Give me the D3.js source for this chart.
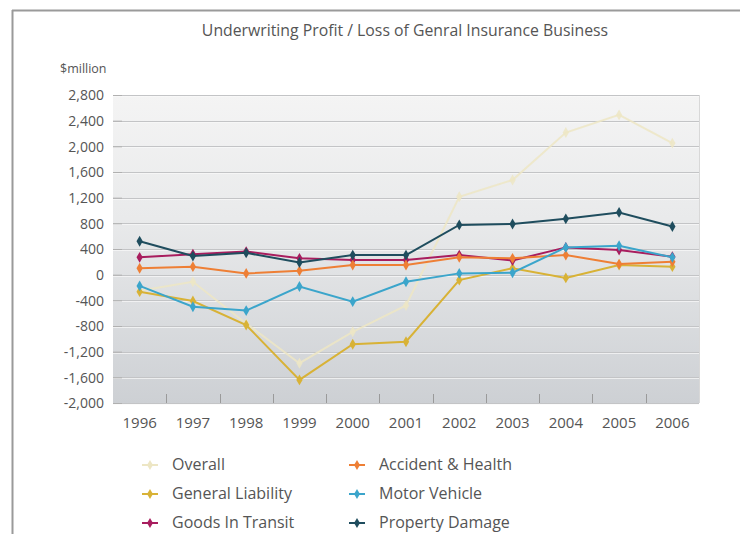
<!DOCTYPE html>
<html><head><meta charset="utf-8">
<script src="https://cdn.jsdelivr.net/npm/d3@7"></script>
<style>
html,body{margin:0;padding:0;background:#fff;}
svg{display:block;font-family:"Open Sans","Noto Sans",sans-serif;}
</style></head>
<body>
<svg id="chart" width="740" height="534"></svg>
<script>
const years = ["1996","1997","1998","1999","2000","2001","2002","2003","2004","2005","2006"];
const yTicks = [-2000,-1600,-1200,-800,-400,0,400,800,1200,1600,2000,2400,2800];
const seriesNames = ["Overall","General Liability","Goods In Transit","Accident & Health","Motor Vehicle","Property Damage"];
const overall = [-250,-110,-760,-1380,-890,-480,1215,1475,2215,2490,2050];
const generalLiability = [-265,-410,-785,-1640,-1085,-1045,-85,100,-50,150,125];
const goodsInTransit = [270,320,360,255,230,230,305,220,425,385,280];
const accidentHealth = [100,125,20,60,150,150,270,255,305,165,200];
const motorVehicle = [-175,-500,-560,-185,-420,-110,20,30,425,450,270];
const propertyDamage = [520,290,340,190,305,305,775,790,870,970,750];
const seriesColors = ["#ede6c4","#d8b236","#a81d5e","#ee7f35","#3ba5cb","#1f4d5e"];

const seriesValues = [overall,generalLiability,goodsInTransit,accidentHealth,motorVehicle,propertyDamage];
const series = seriesNames.map((n,i)=>({name:n,values:seriesValues[i],color:seriesColors[i]}));

const svg = d3.select("#chart");
const L = 113, R = 699, T = 95, B = 403;

// frame
svg.append("line").attr("x1",12).attr("x2",740).attr("y1",10.5).attr("y2",10.5).attr("stroke","#9a9a9a").attr("stroke-width",2);
svg.append("line").attr("x1",12.5).attr("x2",12.5).attr("y1",10).attr("y2",534).attr("stroke","#9a9a9a").attr("stroke-width",2);

const x = d3.scaleBand().domain(years).range([L,R]);
const y = d3.scaleLinear().domain([-2000,2800]).range([B,T]);

const defs = svg.append("defs");
const grad = defs.append("linearGradient").attr("id","bg").attr("x1",0).attr("x2",0).attr("y1",0).attr("y2",1);
grad.append("stop").attr("offset","0%").attr("stop-color","#f4f4f4");
grad.append("stop").attr("offset","40%").attr("stop-color","#e9eaeb");
grad.append("stop").attr("offset","100%").attr("stop-color","#cdd0d4");
svg.append("rect").attr("x",L).attr("y",T).attr("width",R-L).attr("height",B-T).attr("fill","url(#bg)");

// gridlines
const g = svg.append("g");
g.selectAll("line.w").data(yTicks).join("line")
  .attr("x1",L).attr("x2",R).attr("y1",d=>Math.round(y(d))+1.5).attr("y2",d=>Math.round(y(d))+1.5)
  .attr("stroke","#fafafa").attr("stroke-width",1).attr("opacity",0.7);
g.selectAll("line.g").data(yTicks).join("line")
  .attr("x1",L).attr("x2",R).attr("y1",d=>Math.round(y(d))+0.5).attr("y2",d=>Math.round(y(d))+0.5)
  .attr("stroke","#c3c4c6").attr("stroke-width",1);

// y axis
const fmt = d3.format(",");
const yAxis = d3.axisLeft(y).tickValues(yTicks).tickSize(-9).tickPadding(18).tickFormat(d=>fmt(d).replace("\u2212","-"));
const ya = svg.append("g").attr("transform",`translate(${L},0)`).call(yAxis);
ya.select(".domain").remove();
ya.selectAll(".tick line").attr("stroke","#b0b0b0");
ya.selectAll(".tick text").attr("fill","#555").attr("font-size","14px").attr("x",-9).attr("dy","0.35em")
  .attr("font-family","'Open Sans','Noto Sans',sans-serif");

// x axis: ticks at band boundaries
const bounds = years.slice(1).map(yr=>x(yr));
svg.append("g").selectAll("line").data(bounds).join("line")
  .attr("x1",d=>Math.round(d)+0.5).attr("x2",d=>Math.round(d)+0.5).attr("y1",B-9).attr("y2",B)
  .attr("stroke","#9a9a9a");
svg.append("line").attr("x1",R+0.5).attr("x2",R+0.5).attr("y1",T).attr("y2",B).attr("stroke","#d8d8d8");
const xAxis = d3.axisBottom(x).tickSize(0).tickPadding(14);
const xa = svg.append("g").attr("transform",`translate(0,${B})`).call(xAxis);
xa.select(".domain").remove();
xa.selectAll(".tick text").attr("fill","#555").attr("font-size","15px")
  .attr("font-family","'Open Sans','Noto Sans',sans-serif");

// lines
const line = d3.line().x((d,i)=>x(years[i])+x.bandwidth()/2).y(d=>y(d));
const sg = svg.append("g");
series.forEach((s,si)=>{
  const op = si===0 ? 0.85 : 1;
  sg.append("path").attr("d",line(s.values)).attr("fill","none").attr("stroke",s.color)
    .attr("stroke-width",2).attr("opacity",op);
  sg.append("g").selectAll("path").data(s.values).join("path")
    .attr("d",d3.symbol(d3.symbolDiamond,34))
    .attr("transform",(d,i)=>`translate(${x(years[i])+x.bandwidth()/2},${y(d)})`)
    .attr("fill",s.color).attr("opacity",op);
});

// title
svg.append("text").attr("x",405).attr("y",36).attr("text-anchor","middle").attr("fill","#555")
  .attr("font-size","15.8px").text("Underwriting Profit / Loss of Genral Insurance Business");
svg.append("text").attr("x",60).attr("y",73).attr("fill","#555").attr("font-size","12.5px").text("$million");

// legend
const legendOrder = [0,3,1,4,2,5];
legendOrder.forEach((si,k)=>{
  const col = k%2, row = Math.floor(k/2);
  const lx = col===0 ? 150 : 357;
  const ly = 465 + row*29;
  const s = series[si];
  const lg = svg.append("g");
  lg.append("line").attr("x1",lx-8).attr("x2",lx+8).attr("y1",ly).attr("y2",ly).attr("stroke",s.color).attr("stroke-width",2);
  lg.append("path").attr("d",d3.symbol(d3.symbolDiamond,30)).attr("transform",`translate(${lx},${ly})`).attr("fill",s.color);
  lg.append("text").attr("x",lx+22).attr("y",ly+5).attr("fill","#555").attr("font-size","16px").text(s.name);
});
</script>
</body></html>
